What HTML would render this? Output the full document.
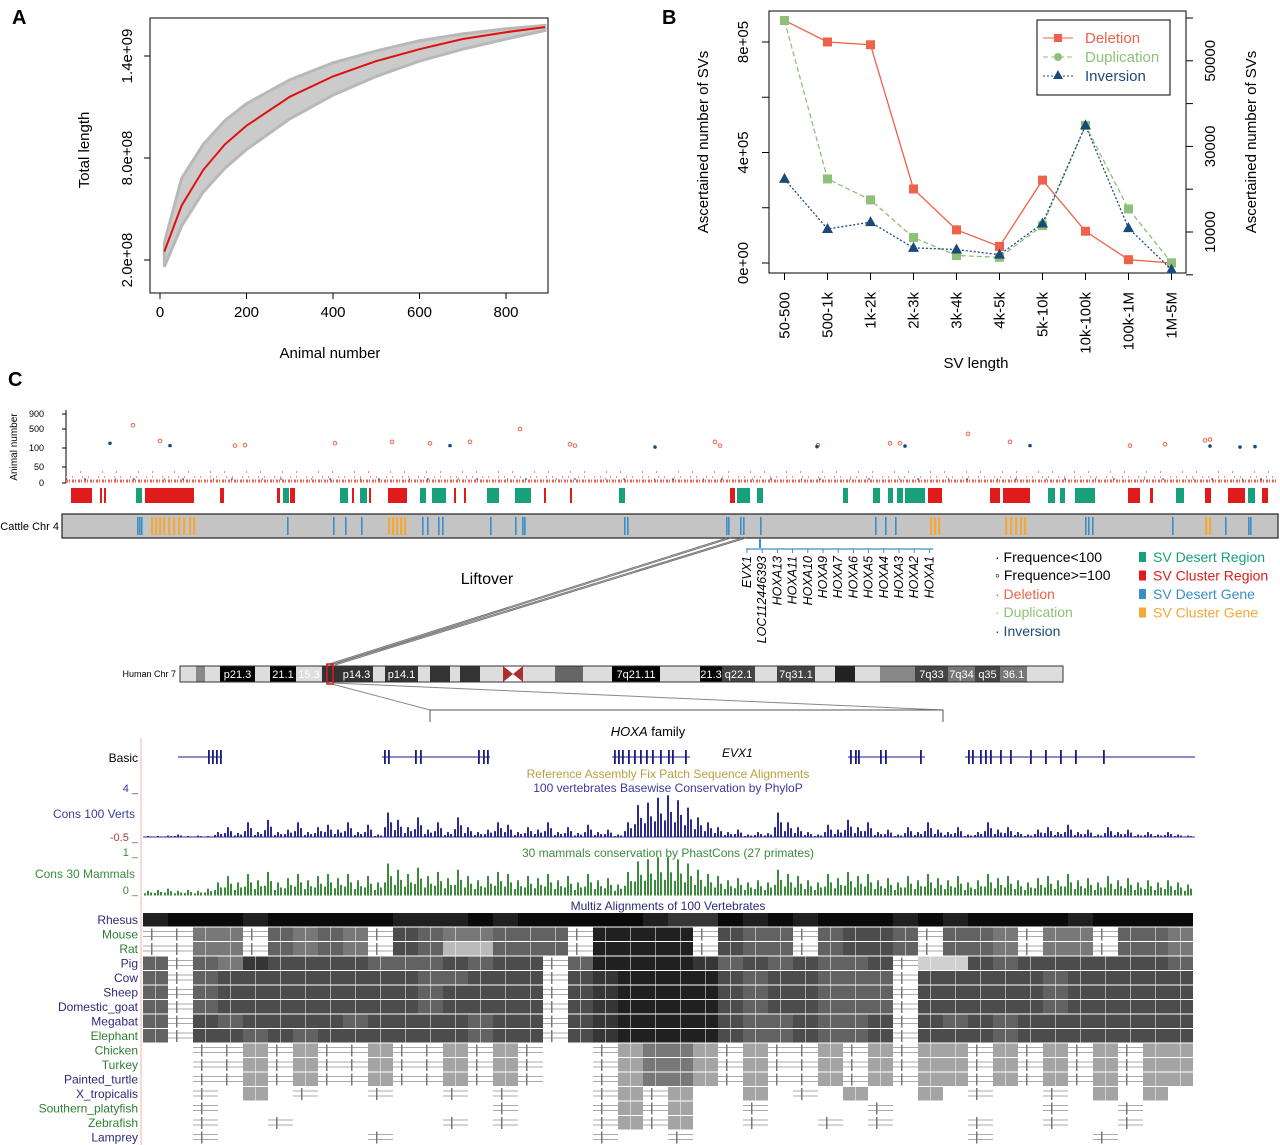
<!DOCTYPE html>
<html><head><meta charset="utf-8"><style>
body{margin:0;background:#fff;}
svg{display:block;font-family:"Liberation Sans",sans-serif;}
</style></head><body>
<svg id="fig" width="1280" height="1145" viewBox="0 0 1280 1145"></svg>
<script>
// ---- Panel A data ----
const aAnimals=[10,50,100,150,200,300,400,500,600,700,800,890];
const aMean=[2.5e8,5.2e8,7.3e8,8.8e8,9.9e8,1.16e9,1.28e9,1.37e9,1.44e9,1.5e9,1.54e9,1.57e9];
const aLow=[1.6e8,4.0e8,6.0e8,7.4e8,8.5e8,1.03e9,1.17e9,1.28e9,1.37e9,1.44e9,1.5e9,1.55e9];
const aHigh=[3.0e8,6.8e8,8.8e8,1.02e9,1.12e9,1.26e9,1.36e9,1.43e9,1.49e9,1.53e9,1.56e9,1.58e9];
const aXTicks=[0,200,400,600,800];
const aYTicks=[2e8,8e8,1.4e9];
const aYLabels=["2.0e+08","8.0e+08","1.4e+09"];
// ---- Panel B data ----
const bCats=["50-500","500-1k","1k-2k","2k-3k","3k-4k","4k-5k","5k-10k","10k-100k","100k-1M","1M-5M"];
const bDeletion=[878000,800000,790000,268000,120000,60000,300000,115000,12000,0];
const bDuplication=[59400,22400,17500,8700,4500,4100,11500,34900,15400,2800];
const bInversion=[22400,10700,12300,6300,5900,4700,12000,34900,10900,1200];
const bLeftTicks=[0,400000,800000];
const bLeftLabels=["0e+00","4e+05","8e+05"];
const bRightTicks=[10000,30000,50000];
// ---- Panel C data ----
const cRedRegions=[[71,92],[100,102],[104,106],[145,194],[220,224],[277,280],[290,295],[352,354],[369,371],[388,407],[454,456],[464,466],[544,546],[570,572],[730,735],[928,942],[990,1000],[1003,1030],[1128,1140],[1150,1153],[1205,1211],[1228,1245],[1262,1268]];
const cGreenRegions=[[136,142],[283,289],[340,348],[360,367],[420,426],[432,446],[487,499],[515,531],[619,625],[737,750],[757,763],[843,848],[873,880],[888,893],[897,903],[905,925],[1048,1055],[1060,1065],[1075,1095],[1176,1184],[1248,1255]];
const cBlueGenes=[137,139,141,287,333,345,361,422,427,438,442,490,515,522,524,624,627,726,728,740,743,760,875,885,895,1085,1088,1092,1172,1225,1248,1250];
const cOrangeGenes=[151,155,159,163,168,173,178,183,189,193,388,392,396,400,404,930,934,938,1005,1010,1015,1020,1024,1205,1209];
const cRedOutX=[133,160,235,245,335,392,430,470,520,570,575,715,720,818,890,900,968,1010,1130,1165,1205,1210];
const cRedOutV=[600,250,150,160,200,230,200,230,500,180,150,230,150,160,200,200,400,230,150,180,260,280];
const cBlueOutX=[110,170,450,655,817,905,1030,1210,1240,1255];
const cBlueOutV=[200,150,150,120,130,140,150,140,120,130];
const cYTicks=[0,50,100,500,900];
const hoxLabels=["EVX1","LOC112446393","HOXA13","HOXA11","HOXA10","HOXA9","HOXA7","HOXA6","HOXA5","HOXA4","HOXA3","HOXA2","HOXA1"];
const cons100=[.02,.02,.03,.05,.02,.03,.02,.1,.2,.08,.3,.1,.35,.1,.15,.3,.1,.2,.25,.15,.3,.1,.25,.05,.5,.35,.2,.4,.15,.3,.1,.4,.2,.1,.15,.3,.25,.1,.2,.15,.3,.1,.2,.08,.25,.1,.15,.05,.3,.65,.7,.8,.85,.75,.6,.4,.3,.2,.1,.15,.05,.1,.08,.5,.3,.2,.1,.05,.25,.15,.35,.2,.3,.1,.15,.05,.2,.1,.3,.15,.1,.2,.05,.1,.3,.15,.2,.1,.05,.15,.2,.1,.25,.1,.15,.05,.2,.1,.15,.05,.1,.05,.1,.05,.03];
const cons30=[.1,.12,.15,.1,.12,.1,.15,.3,.45,.3,.5,.35,.55,.3,.4,.5,.35,.45,.5,.4,.5,.35,.45,.3,.75,.6,.5,.65,.45,.55,.4,.6,.45,.35,.45,.55,.5,.35,.45,.4,.5,.35,.45,.3,.5,.35,.4,.25,.55,.8,.85,.9,.9,.85,.75,.6,.5,.45,.35,.4,.3,.35,.3,.6,.5,.45,.35,.3,.5,.4,.55,.45,.5,.35,.4,.3,.45,.35,.5,.4,.35,.45,.3,.35,.5,.4,.45,.35,.3,.4,.45,.35,.5,.35,.4,.3,.45,.35,.4,.3,.35,.3,.35,.3,.25];
const species=["Rhesus","Mouse","Rat","Pig","Cow","Sheep","Domestic_goat","Megabat","Elephant","Chicken","Turkey","Painted_turtle","X_tropicalis","Southern_platyfish","Zebrafish","Lamprey"];
const speciesColor=["#2b2b7a","#2e7d32","#2e7d32","#2b2b7a","#2b2b7a","#2b2b7a","#2b2b7a","#2b2b7a","#2e7d32","#2e7d32","#2e7d32","#2b2b7a","#2b2b7a","#2e7d32","#2e7d32","#2b2b7a"];
const multiz=[
"100010000011101000001220101000101000010000",
"--55-4545-3455444-1111-344-4334-445-55-445",
"--55-4545-3488444-1111-344-4334-445-55-445",
"4-45233334443433-4111124343443-99343333334",
"4-43333333344333-3211113433444-33333433333",
"4-43333333343333-3211113433444-33333433333",
"4-43333333343333-3211113433444-33333433333",
"4-34333343333433-3211113443443-34343333333",
"4-33434333333433-3211113443443-33343333333",
"  --7-7--7--7-7-  -7557-7--7-7-77-7-7-7-77",
"  --7-7--7--7-7-  -7557-7--7-7-77-7-7-7-77",
"  --7-7--7--7-7-  -7557-7--7-7-77-7-7-7-77",
"  - 7 -  -  - -   -7-7  7 - 7  7 -  - 7 7 ",
"  -           -   -7-7  -    -      -  -  ",
"  -  -      - -   -7-7  -  - -   -  -  -  ",
"  -      -        -  -           -    -   "];
const humanBands=[[180,196,"#ddd",""],[196,205,"#888",""],[205,220,"#ddd",""],[220,255,"#000","p21.3"],[255,270,"#ddd",""],[270,296,"#000","21.1"],[296,322,"#ddd","15.3"],[322,340,"#333",""],[340,373,"#333","p14.3"],[373,385,"#ddd",""],[385,418,"#333","p14.1"],[418,430,"#ddd",""],[430,450,"#333",""],[450,460,"#ddd",""],[460,480,"#333",""],[480,503,"#ddd",""],[523,555,"#ddd",""],[555,583,"#666",""],[583,612,"#ddd",""],[612,660,"#000","7q21.11"],[660,700,"#ddd",""],[700,722,"#000","21.3"],[722,755,"#444","q22.1"],[755,777,"#ddd",""],[777,815,"#444","7q31.1"],[815,835,"#ddd",""],[835,855,"#222",""],[855,880,"#ddd",""],[880,915,"#888",""],[915,948,"#444","7q33"],[948,975,"#777","7q34"],[975,1000,"#444","q35"],[1000,1027,"#777","36.1"],[1027,1063,"#ddd",""]];
const genes=[[178,222,[208,212,216,220]],[382,490,[384,388,415,420,478,483,487]],[612,690,[614,618,622,628,634,640,646,652,660,668,672,685]],[848,925,[850,855,858,880,885,920]],[965,1195,[968,972,980,985,990,1000,1010,1030,1045,1060,1075,1103]]];

const NS="http://www.w3.org/2000/svg";
const svg=document.getElementById('fig');
function el(tag,attrs,parent,text){const e=document.createElementNS(NS,tag);for(const k in attrs)e.setAttribute(k,attrs[k]);if(text!==undefined)e.textContent=text;(parent||svg).appendChild(e);return e;}
function grp(name){const g=el('g',{});return g;}

[["A",12,24],["B",662,24],["C",8,386]].forEach(p=>{const t=el('text',{x:p[1],y:p[2],'font-size':20,'font-weight':'bold'},svg,p[0]);});

// ===== Panel A =====
const gA=grp('panel-a-chart');
const ax=v=>160+v*0.4325, ay=v=>260-(v-2e8)/6e8*102;
el('rect',{x:150,y:18,width:398,height:275,fill:'none',stroke:'#000'},gA);
let band=aAnimals.map((a,i)=>ax(a)+','+ay(aHigh[i])).join(' ')+' '+aAnimals.map((a,i)=>ax(a)+','+ay(aLow[i])).reverse().join(' ');
const bandEl=el('polygon',{points:band,fill:'#cbcbcb',stroke:'#b8b8b8','stroke-width':3},gA);


const meanEl=el('polyline',{points:aAnimals.map((a,i)=>ax(a)+','+ay(aMean[i])).join(' '),fill:'none',stroke:'#e01010','stroke-width':2},gA);


aXTicks.forEach(t=>{el('line',{x1:ax(t),x2:ax(t),y1:293,y2:299,stroke:'#000'},gA);el('text',{x:ax(t),y:317,'font-size':15,'text-anchor':'middle'},gA,t);});
aYTicks.forEach((t,i)=>{el('line',{x1:144,x2:150,y1:ay(t),y2:ay(t),stroke:'#000'},gA);el('text',{x:0,y:0,'font-size':15,'text-anchor':'middle',transform:`translate(132,${ay(t)}) rotate(-90)`},gA,aYLabels[i]);});
el('text',{x:330,y:358,'font-size':15,'text-anchor':'middle'},gA,'Animal number');
el('text',{x:0,y:0,'font-size':15,'text-anchor':'middle',transform:'translate(89,150) rotate(-90)'},gA,'Total length');

// ===== Panel B =====
const gB=grp('panel-b-chart');
const bx=i=>784.5+i*43, byL=v=>263-v/4e5*110.5, byR=v=>232-(v-10000)/10000*42.8;
el('rect',{x:769,y:11,width:417,height:262,fill:'none',stroke:'#000'},gB);
bCats.forEach((c,i)=>{el('line',{x1:bx(i),x2:bx(i),y1:273,y2:280,stroke:'#000'},gB);el('text',{x:0,y:0,'font-size':15,'text-anchor':'end',transform:`translate(${bx(i)+5},292) rotate(-90)`},gB,c);});
bLeftTicks.forEach((t,i)=>{el('line',{x1:762,x2:769,y1:byL(t),y2:byL(t),stroke:'#000'},gB);el('text',{x:0,y:0,'font-size':15,'text-anchor':'middle',transform:`translate(748,${byL(t)}) rotate(-90)`},gB,bLeftLabels[i]);});
[2e5,6e5].forEach(t=>el('line',{x1:762,x2:769,y1:byL(t),y2:byL(t),stroke:'#000'},gB));
for(let v=0;v<=60000;v+=10000){el('line',{x1:1186,x2:1193,y1:byR(v),y2:byR(v),stroke:'#000'},gB);}
bRightTicks.forEach(t=>el('text',{x:0,y:0,'font-size':15,'text-anchor':'middle',transform:`translate(1215,${byR(t)}) rotate(-90)`},gB,t));
el('text',{x:0,y:0,'font-size':15,'text-anchor':'middle',transform:'translate(708,142) rotate(-90)'},gB,'Ascertained number of SVs');
el('text',{x:0,y:0,'font-size':15,'text-anchor':'middle',transform:'translate(1256,142) rotate(-90)'},gB,'Ascertained number of SVs');
el('text',{x:976,y:368,'font-size':15,'text-anchor':'middle'},gB,'SV length');
function series(vals,fy,color,dash,shape,name){
  const g=grp('series-'+name);gB.appendChild(g);
  el('polyline',{points:vals.map((v,i)=>bx(i)+','+fy(v)).join(' '),fill:'none',stroke:color,'stroke-width':1.3,'stroke-dasharray':dash},g);
  vals.forEach((v,i)=>{const x=bx(i),y=fy(v);let m;
    if(shape==='sq')m=el('rect',{x:x-4.5,y:y-4.5,width:9,height:9,fill:color},g);
    else m=el('polygon',{points:`${x},${y-6} ${x-5.5},${y+4} ${x+5.5},${y+4}`,fill:color},g);
    
    });
}
series(bDeletion,byL,'#f0604a','','sq','deletion');
series(bDuplication,byR,'#8fc077','5,3','sq','duplication');
series(bInversion,byR,'#1a4a7a','2,2','tri','inversion');
const lg=grp('legend-b');gB.appendChild(lg);
el('rect',{x:1037,y:20,width:133,height:75,fill:'#fff',stroke:'#000'},lg);
[["Deletion",'#f0604a','',38,'sq'],["Duplication",'#8fc077','5,3',57,'ci'],["Inversion",'#1a4a7a','2,2',76,'tri']].forEach(l=>{
  el('line',{x1:1043,x2:1073,y1:l[3],y2:l[3],stroke:l[1],'stroke-dasharray':l[2]},lg);
  if(l[4]==='sq')el('rect',{x:1054,y:l[3]-4,width:8,height:8,fill:l[1]},lg);
  else if(l[4]==='ci')el('circle',{cx:1058,cy:l[3],r:4,fill:l[1]},lg);
  else el('polygon',{points:`1058,${l[3]-6} 1053,${l[3]+3} 1063,${l[3]+3}`,fill:l[1]},lg);
  el('text',{x:1085,y:l[3]+5,'font-size':15,fill:l[1]},lg,l[0]);});

// ===== Panel C top =====
const gC=grp('panel-c-sv-track');
const cy=v=>{const ks=[0,50,100,500,900],ps=[483,467,448,429,414];for(let i=1;i<ks.length;i++){if(v<=ks[i]){return ps[i-1]+(v-ks[i-1])/(ks[i]-ks[i-1])*(ps[i]-ps[i-1]);}}return 414;};
el('line',{x1:66,x2:66,y1:410,y2:483,stroke:'#000'},gC);
cYTicks.forEach(t=>{el('line',{x1:62,x2:66,y1:cy(t),y2:cy(t),stroke:'#000'},gC);el('text',{x:44,y:cy(t)+3,'font-size':9,'text-anchor':'end'},gC,t);});
el('text',{x:0,y:0,'font-size':10,'text-anchor':'middle',transform:'translate(17,447) rotate(-90)'},gC,'Animal number');
el('line',{x1:66,x2:1278,y1:481,y2:481,stroke:'#f0604a','stroke-width':3,'stroke-dasharray':'2,1,1,2'},gC);
el('line',{x1:66,x2:1278,y1:477,y2:477,stroke:'#f3907f','stroke-width':2,'stroke-dasharray':'1,5,1,9'},gC);
el('line',{x1:66,x2:1278,y1:472,y2:472,stroke:'#f0604a','stroke-width':1.5,'stroke-dasharray':'1,13,1,21'},gC);
el('line',{x1:66,x2:1278,y1:479,y2:479,stroke:'#1a4a7a','stroke-width':1,'stroke-dasharray':'1,17,2,29'},gC);
cRedOutX.forEach((x,i)=>{const c=el('circle',{cx:x,cy:cy(cRedOutV[i]),r:1.8,fill:'none',stroke:'#f0604a'},gC);});
cBlueOutX.forEach((x,i)=>{const c=el('circle',{cx:x,cy:cy(cBlueOutV[i]),r:1.8,fill:'#1a4a7a'},gC);});
cRedRegions.forEach(r=>el('rect',{x:r[0],y:488,width:r[1]-r[0],height:15,fill:'#e01b1b'},gC));
cGreenRegions.forEach(r=>el('rect',{x:r[0],y:488,width:r[1]-r[0],height:15,fill:'#17a07a'},gC));
const chr=el('rect',{x:62,y:514,width:1216,height:24,fill:'#c4c4c4',stroke:'#222','stroke-width':1.2},gC);

el('text',{x:59,y:530,'font-size':11,'text-anchor':'end'},gC,'Cattle Chr 4');
cBlueGenes.forEach(x=>el('rect',{x:x,y:517,width:1.6,height:18,fill:'#3a8fc7'},gC));
cOrangeGenes.forEach(x=>el('rect',{x:x,y:517,width:2.2,height:18,fill:'#f3a838'},gC));
const gH=grp('hoxa-gene-labels');
el('line',{x1:760,x2:760,y1:538,y2:548,stroke:'#3a8fc7','stroke-width':2},gH);
el('line',{x1:746,x2:933,y1:549,y2:549,stroke:'#3a8fc7','stroke-width':1.3},gH);
hoxLabels.forEach((h,i)=>{const x=747+i*15.2;el('line',{x1:x,x2:x,y1:549,y2:553,stroke:'#3a8fc7'},gH);el('text',{x:0,y:0,'font-size':12.5,'font-style':'italic','text-anchor':'end',transform:`translate(${x+4},556) rotate(-90)`},gH,h);});
const gL=grp('legend-c');
[["· Frequence<100",'#000',562],["◦ Frequence>=100",'#000',580],["· Deletion",'#f0604a',599],["· Duplication",'#8fc077',617],["· Inversion",'#1a4a7a',636]].forEach(l=>el('text',{x:995,y:l[2],'font-size':14,fill:l[1]},gL,l[0]));
[["SV Desert Region",'#17a07a'],["SV Cluster Region",'#e01b1b'],["SV Desert Gene",'#3a8fc7'],["SV Cluster Gene",'#f3a838']].forEach((l,i)=>{const y=562+i*18.5;el('rect',{x:1139,y:y-10,width:7,height:10,fill:l[1]},gL);el('text',{x:1153,y:y,'font-size':14,fill:l[1]},gL,l[0]);});
const gX=grp('liftover-connectors');
el('line',{x1:727,y1:538,x2:326,y2:665,stroke:'#777'},gX);el('line',{x1:731,y1:538,x2:330,y2:665,stroke:'#777'},gX);
el('line',{x1:742,y1:538,x2:331,y2:665,stroke:'#777'},gX);el('line',{x1:746,y1:538,x2:335,y2:665,stroke:'#777'},gX);
el('text',{x:487,y:584,'font-size':16,'text-anchor':'middle'},gX,'Liftover');
el('line',{x1:328,y1:683,x2:430,y2:710,stroke:'#888'},gX);el('line',{x1:333,y1:683,x2:943,y2:710,stroke:'#888'},gX);
el('polyline',{points:'430,722 430,710 943,710 943,722',fill:'none',stroke:'#555'},gX);
const hf=el('text',{x:648,y:736,'font-size':13,'text-anchor':'middle'},gX);
el('tspan',{'font-style':'italic'},hf,'HOXA');el('tspan',{},hf,' family');
const g7=grp('human-chr7');
el('text',{x:176,y:677,'font-size':9,'text-anchor':'end'},g7,'Human Chr 7');
humanBands.forEach(b=>{el('rect',{x:b[0],y:666,width:b[1]-b[0],height:16,fill:b[2]},g7);if(b[3])el('text',{x:(b[0]+b[1])/2,y:678,'font-size':11,'text-anchor':'middle',fill:'#fff'},g7,b[3]);});
el('polygon',{points:'503,666 513,674 523,666 523,682 513,674 503,682',fill:'#a83232'},g7);
el('rect',{x:180,y:666,width:883,height:16,fill:'none',stroke:'#333'},g7);
el('rect',{x:327,y:664,width:6,height:20,fill:'none',stroke:'#e01b1b','stroke-width':1.5},g7);

// ===== Browser =====
const gBr=grp('genome-browser');
el('line',{x1:141,x2:141,y1:738,y2:1145,stroke:'#f4b0b0'},gBr);
el('text',{x:138,y:762,'font-size':12,'text-anchor':'end'},gBr,'Basic');
genes.forEach(g=>{el('line',{x1:g[0],x2:g[1],y1:757,y2:757,stroke:'#1a1a80'},gBr);g[2].forEach(e=>el('rect',{x:e,y:750,width:1.8,height:14,fill:'#1a1a80'},gBr));});
el('text',{x:722,y:757,'font-size':12,'font-style':'italic'},gBr,'EVX1');
el('text',{x:668,y:778,'font-size':12,'text-anchor':'middle',fill:'#b8a040'},gBr,'Reference Assembly Fix Patch Sequence Alignments');
el('text',{x:668,y:792,'font-size':12,'text-anchor':'middle',fill:'#3b3b9b'},gBr,'100 vertebrates Basewise Conservation by PhyloP');
el('text',{x:138,y:792,'font-size':11,'text-anchor':'end',fill:'#3b3b9b'},gBr,'4 _');
el('text',{x:135,y:818,'font-size':12,'text-anchor':'end',fill:'#3b3b9b'},gBr,'Cons 100 Verts');
el('text',{x:138,y:841,'font-size':11,'text-anchor':'end',fill:'#a04040'},gBr,'-0.5 _');
el('text',{x:138,y:856,'font-size':11,'text-anchor':'end',fill:'#3c8a3c'},gBr,'1 _');
el('text',{x:135,y:878,'font-size':12,'text-anchor':'end',fill:'#3c8a3c'},gBr,'Cons 30 Mammals');
el('text',{x:138,y:894,'font-size':11,'text-anchor':'end',fill:'#3c8a3c'},gBr,'0 _');
el('text',{x:668,y:857,'font-size':12,'text-anchor':'middle',fill:'#3c8a3c'},gBr,'30 mammals conservation by PhastCons (27 primates)');
el('text',{x:668,y:910,'font-size':12,'text-anchor':'middle',fill:'#2b2b7a'},gBr,'Multiz Alignments of 100 Vertebrates');
el('line',{x1:143,x2:1195,y1:837,y2:837,stroke:'#3b3b9b'},gBr);
function consTrack(vals,base,h,color,name){const g=grp(name);gBr.appendChild(g);
  vals.forEach((v,i)=>{const x=143+i*10;[[1,.4],[4,1],[7,.6]].forEach(s=>{el('rect',{x:x+s[0],y:base-v*s[1]*h,width:2,height:v*s[1]*h+.5,fill:color},g);});});}
consTrack(cons100,837,49,'#2b2b8f','cons100-track');
consTrack(cons30,895,42,'#3c8a3c','cons30-track');
const rowH=14.5, row0=913;
species.forEach((s,r)=>{const y=row0+r*rowH;
  const t=el('text',{x:138,y:y+11,'font-size':12,'text-anchor':'end',fill:speciesColor[r]},gBr,s);
  
  const str=multiz[r];
  for(let i=0;i<42;i++){const c=str[i]||' ';const x=143+i*25;
    if(c==='-'){el('line',{x1:x,x2:x+25,y1:y+4,y2:y+4,stroke:'#aaa'},gBr);el('line',{x1:x,x2:x+25,y1:y+9,y2:y+9,stroke:'#aaa'},gBr);el('rect',{x:x+8,y:y+1,width:1.5,height:12,fill:'#777'},gBr);}
    else if(c!==' '){const lv=+c*22+10;el('rect',{x:x,y:y,width:25,height:rowH-1,fill:`rgb(${lv},${lv},${lv})`},gBr);
      if(r>0)el('rect',{x:x+12,y:y,width:1,height:rowH-1,fill:'#fff',opacity:.5},gBr);}
  }});
</script>
</body></html>
